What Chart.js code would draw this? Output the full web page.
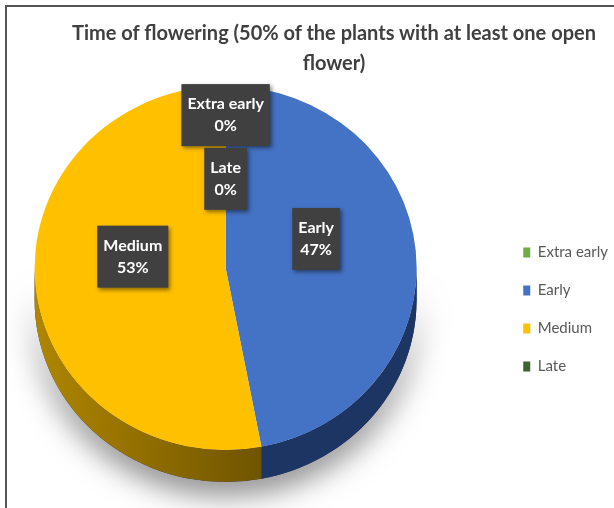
<!DOCTYPE html>
<html>
<head>
<meta charset="utf-8">
<script src="https://cdn.jsdelivr.net/npm/chart.js@4.4.1/dist/chart.umd.min.js"></script>
<style>
    html, body { margin: 0; padding: 0; background: #fff; }
    #wrap { position: relative; width: 614px; height: 508px; overflow: hidden; }
    /* canvas runs past the left edge so the pie sits left of the legend */
    #FloweringChart { position: absolute; left: -49px; top: 0; }
    #title {
        position: absolute; left: 54px; top: 17px; width: 560px;
        text-align: center; color: #404040;
        font: bold 20px Lato, sans-serif; line-height: 30px;
    }
    #frame {
        position: absolute; left: 5px; top: 5px; right: -10px; bottom: -10px;
        border-top: 2px solid #555; border-left: 2px solid #555;
    }
</style>
</head>
<body>
<div id="wrap">
    <canvas id="FloweringChart" width="667" height="508"></canvas>
    <div id="title">Time of flowering (50% of the plants with at least one open<br>flower)</div>
    <div id="frame"></div>
</div>
<script>
const CATEGORIES = ['Extra early', 'Early', 'Medium', 'Late'];
const SHARES = [0, 47, 53, 0];

const FONT = 'Lato, sans-serif';

// draws the tilted disc: squashes the pie and adds the rim below it
const pie3d = {
    id: 'pie3d',
    beforeDatasetsDraw(chart, args, opts) {
        const arcs = chart.getDatasetMeta(0).data;
        if (!arcs.length) return;
        const ctx = chart.ctx;
        const {x, y, outerRadius: r} = arcs[0].getProps(['x', 'y', 'outerRadius'], true);
        const depth = opts.depth / opts.tilt;

        ctx.save();
        ctx.translate(0, y);
        ctx.scale(1, opts.tilt);
        ctx.translate(0, -y);

        // whole rim once, with the soft shadow
        ctx.save();
        ctx.shadowColor = opts.shadowColor;
        ctx.shadowBlur = opts.shadowBlur;
        ctx.shadowOffsetX = opts.shadowOffsetX;
        ctx.shadowOffsetY = opts.shadowOffsetY;
        ctx.beginPath();
        ctx.arc(x, y, r, 0, Math.PI);
        ctx.arc(x, y + depth, r, Math.PI, 0, true);
        ctx.closePath();
        ctx.fillStyle = opts.sideColors[1][1];
        ctx.fill();
        ctx.restore();

        // rim piece of every slice, only the front half shows
        arcs.forEach((arc, i) => {
            const {startAngle, endAngle} = arc.getProps(['startAngle', 'endAngle'], true);
            [0, Math.PI * 2].forEach(shift => {
                const a0 = Math.max(startAngle, shift);
                const a1 = Math.min(endAngle, shift + Math.PI);
                if (a1 <= a0) return;
                const grad = ctx.createLinearGradient(x - r, 0, x + r, 0);
                grad.addColorStop(0, opts.sideColors[i][0]);
                grad.addColorStop(0.6, opts.sideColors[i][1]);
                grad.addColorStop(1, opts.sideColors[i][1]);
                ctx.beginPath();
                ctx.arc(x, y, r, a0, a1);
                ctx.arc(x, y + depth, r, a1, a0, true);
                ctx.closePath();
                ctx.fillStyle = grad;
                ctx.fill();
            });
        });
    },
    afterDatasetsDraw(chart) {
        if (chart.getDatasetMeta(0).data.length) chart.ctx.restore();
    }
};

// dark boxes with category name and share
const boxLabels = {
    id: 'boxLabels',
    afterDatasetsDraw(chart, args, opts) {
        const ctx = chart.ctx;
        const tilt = chart.options.plugins.pie3d.tilt;
        const values = chart.data.datasets[0].data;
        chart.getDatasetMeta(0).data.forEach((arc, i) => {
            const {x, y, outerRadius} = arc.getProps(['x', 'y', 'outerRadius'], true);
            const spot = opts.spots[i];
            const a = spot.angle * Math.PI / 180;
            const cx = x + Math.cos(a) * outerRadius * spot.dist;
            const cy = y + Math.sin(a) * outerRadius * spot.dist * tilt;
            const lines = [chart.data.labels[i], values[i] + '%'];

            ctx.save();
            ctx.font = opts.font;
            const w = Math.max(...lines.map(t => ctx.measureText(t).width)) + opts.padX * 2;
            const h = lines.length * opts.lineHeight + opts.padY * 2;
            ctx.shadowColor = 'rgba(0, 0, 0, 0.45)';
            ctx.shadowBlur = 4;
            ctx.shadowOffsetX = 2;
            ctx.shadowOffsetY = 2;
            ctx.fillStyle = opts.boxColor;
            ctx.fillRect(cx - w / 2, cy - h / 2, w, h);
            ctx.shadowColor = 'transparent';
            ctx.fillStyle = opts.color;
            ctx.textAlign = 'center';
            ctx.textBaseline = 'middle';
            lines.forEach((t, k) => {
                ctx.fillText(t, cx, cy - h / 2 + opts.padY + opts.lineHeight * (k + 0.5));
            });
            ctx.restore();
        });
    }
};

window.onload = function(){

    let ctx = document.getElementById('FloweringChart').getContext('2d');

    window.FlChart = new Chart(ctx, {
        type: 'pie',
        data: {
            labels: CATEGORIES,
            datasets: [{
                data: SHARES,
                backgroundColor: ['#70AD47', '#4472C4', '#FFC000', '#3D6330'],
                borderWidth: 0,
                radius: 191,
                clip: false,
            }]
        },
        options: {
            responsive: false,
            animation: false,
            events: [],
            layout: {
                padding: { left: 0, right: 0, top: 139, bottom: 111 }
            },
            plugins: {
                title: { display: false },
                tooltip: { enabled: false },
                legend: {
                    position: 'right',
                    align: 'end',
                    labels: {
                        boxWidth: 7,
                        boxHeight: 10,
                        padding: 23,
                        color: '#595959',
                        font: { family: FONT, size: 15 }
                    }
                },
                pie3d: {
                    tilt: 0.953,
                    depth: 32,
                    sideColors: [
                        ['#4d7a31', '#3a5d25'],
                        ['#24417a', '#1d3562'],
                        ['#b08600', '#6f5400'],
                        ['#2f4d25', '#243c1d']
                    ],
                    shadowColor: 'rgba(0, 0, 0, 0.5)',
                    shadowBlur: 30,
                    shadowOffsetX: 0,
                    shadowOffsetY: 12
                },
                boxLabels: {
                    font: 'bold 16px ' + FONT,
                    color: '#ffffff',
                    boxColor: '#404040',
                    padX: 6,
                    padY: 9,
                    lineHeight: 22,
                    spots: [
                        { angle: -90, dist: 0.84 },
                        { angle: -18.6, dist: 0.50 },
                        { angle: 187.3, dist: 0.49 },
                        { angle: -90, dist: 0.49 }
                    ]
                }
            }
        },
        plugins: [pie3d, boxLabels]
    });

};
</script>
</body>
</html>
